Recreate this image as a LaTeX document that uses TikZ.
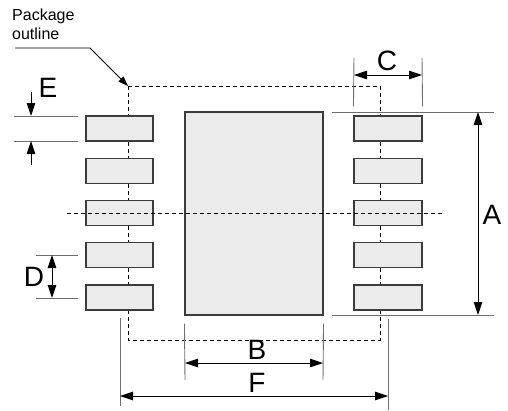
\documentclass[tikz,border=0pt]{standalone}
\usepackage{fontspec}
\setmainfont{Liberation Sans}
\usepackage{tikz}
\usetikzlibrary{calc,arrows.meta}
\definecolor{padfill}{HTML}{EBEBEB}
\definecolor{padline}{HTML}{3C3C3C}
\definecolor{extline}{HTML}{6E6E6E}
\tikzset{
  pad/.style={draw=padline, fill=padfill, line width=1.1pt, minimum width=67pt, minimum height=25pt, inner sep=0pt},
  epad/.style={draw=padline, fill=padfill, line width=1.1pt, minimum width=138pt, minimum height=203pt, inner sep=0pt},
  outl/.style={draw=black, dashed, dash pattern=on 4pt off 3pt, line width=0.8pt},
  ext/.style={draw=extline, line width=0.9pt},
  dim/.style={draw=black, line width=0.9pt, {Triangle[length=13pt,width=8.5pt]}-{Triangle[length=13pt,width=8.5pt]}},
  dimin/.style={draw=black, line width=0.9pt, -{Triangle[length=13pt,width=8.5pt]}},
  lab/.style={font=\fontsize{28}{28}\selectfont, inner sep=0pt},
  note/.style={font=\fontsize{16}{19}\selectfont, align=left, inner sep=0pt},
}
\begin{document}
\begin{tikzpicture}[x=1pt, y=-1pt]
  \useasboundingbox (0,0) rectangle (508,410);
  % package outline
  \coordinate (oTL) at (128,86);
  \coordinate (oBR) at (380,340);
  \draw[outl] (oTL) rectangle (oBR);
  % pads
  \foreach \i in {1,...,5} {
    \node[pad] (L\i) at (119.5,{128.5+42.25*(\i-1)}) {};
    \node[pad, minimum width=68pt] (R\i) at (388,{128.5+42.25*(\i-1)}) {};
  }
  \node[epad] (EP) at (254,213.5) {};
  % center line
  \coordinate (cl1) at (67,213);
  \coordinate (cl2) at (442,213);
  \draw[outl] (cl1) -- (cl2);
  % leader
  \node[note, anchor=north west] (pkg) at (12,9) {Package\\outline};
  \coordinate (ld1) at (15,48);
  \coordinate (ld2) at (90,48);
  \draw[line width=0.8pt, -{Triangle[length=10pt,width=7pt]}] (ld1) -- (ld2) -- (oTL);
  % E
  \draw[ext] (14,116) -- (78,116);
  \draw[ext] (14,141) -- (78,141);
  \draw[dimin] (31,92) -- (31,116);
  \draw[dimin] (31,165) -- (31,141);
  \node[lab] (E) at (48,88) {E};
  % D
  \draw[ext] (36,255) -- (78,255);
  \draw[ext] (36,298) -- (78,298);
  \draw[dim] (52,255) -- (52,298);
  \node[lab] (D) at (34,277) {D};
  % C
  \draw[ext] (R1.north west) ++(0,-9) -- (354,58);
  \draw[ext] (R1.north east) ++(0,-9) -- (422,58);
  \draw[dim] (354,75) -- (422,75);
  \node[lab] (C) at (387,61) {C};
  % A
  \draw[ext] (332,112) -- (494,112);
  \draw[ext] (332,315) -- (494,315);
  \draw[dim] (478,112) -- (478,315);
  \node[lab] (A) at (492,215) {A};
  % B
  \draw[ext] (EP.south west) ++(0,8) -- (185,380);
  \draw[ext] (EP.south east) ++(0,8) -- (323,380);
  \draw[dim] (185,363) -- (323,363);
  \node[lab] (B) at (257,350) {B};
  % F
  \draw[ext] (120,318) -- (120,406);
  \draw[ext] (388,319) -- (388,410);
  \draw[dim] (120,396) -- (388,396);
  \node[lab] (F) at (257,383) {F};
\end{tikzpicture}
\end{document}
